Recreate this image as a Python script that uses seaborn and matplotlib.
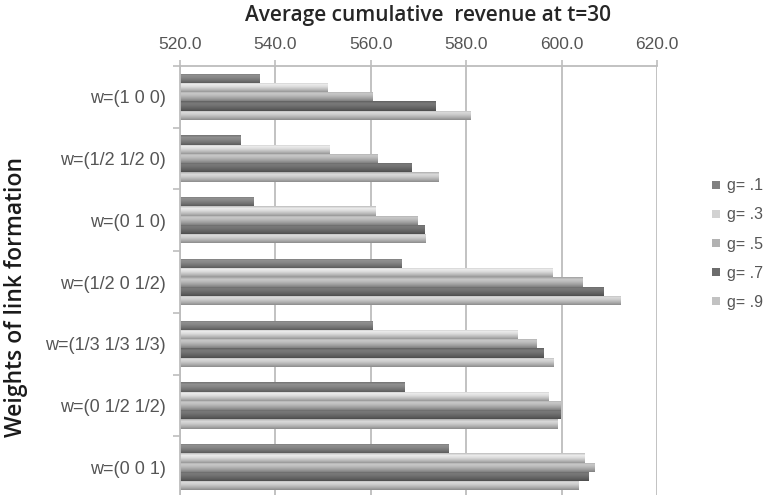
import numpy as np
import pandas as pd
import matplotlib
matplotlib.use("Agg")
import matplotlib.pyplot as plt
from matplotlib.lines import Line2D
import seaborn as sns

# Link-formation weight settings (categories) and g levels (series)
weights = ["w=(1 0 0)", "w=(1/2 1/2 0)", "w=(0 1 0)", "w=(1/2 0 1/2)",
           "w=(1/3 1/3 1/3)", "w=(0 1/2 1/2)", "w=(0 0 1)"]
g_labels = ["g= .1", "g= .3", "g= .5", "g= .7", "g= .9"]

# Average cumulative revenue at t=30, one list per g level
rev_g1 = [536.6, 532.7, 535.4, 566.4, 560.4, 567.0, 576.3]
rev_g3 = [551.0, 551.3, 561.0, 598.1, 590.7, 597.3, 604.9]
rev_g5 = [560.4, 561.3, 569.7, 604.4, 594.8, 599.8, 606.9]
rev_g7 = [573.6, 568.5, 571.2, 608.8, 596.2, 599.8, 605.7]
rev_g9 = [581.0, 574.2, 571.4, 612.4, 598.3, 599.2, 603.6]

x_ticks = [520, 540, 560, 580, 600, 620]

series = [rev_g1, rev_g3, rev_g5, rev_g7, rev_g9]
df = pd.DataFrame({
    "weights": np.repeat([weights], len(g_labels), axis=0).ravel(),
    "g": np.repeat(g_labels, len(weights)),
    "revenue": np.concatenate(series),
})

colors = ["#808080", "#d2d2d2", "#b2b2b2", "#6c6c6c", "#c2c2c2"]

sns.set_theme(style="white")
plt.rcParams["font.family"] = ["Liberation Sans", "DejaVu Sans"]

fig = plt.figure(figsize=(7.66, 4.95), dpi=100)
ax = fig.add_axes([180 / 766, 1 - 498 / 495, (657 - 180) / 766, (498 - 66) / 495])

sns.barplot(data=df, x="revenue", y="weights", hue="g", hue_order=g_labels,
            order=weights, palette=colors, orient="h", width=0.75,
            linewidth=0, saturation=1, legend=False, ax=ax)

xmin, xmax = x_ticks[0], x_ticks[-1]
ax.set_xlim(xmin, xmax)
ylim = ax.get_ylim()

# Cylinder-like shading across the height of each bar
stops_t = [0.0, 0.22, 0.5, 0.8, 1.0]
stops_f = [0.90, 1.13, 1.03, 0.86, 0.72]
tt = np.linspace(0, 1, 32)
shade = np.interp(tt, stops_t, stops_f)
for patch in list(ax.patches):
    x0, y0 = patch.get_x(), patch.get_y()
    w, h = patch.get_width(), patch.get_height()
    rgb = np.array(matplotlib.colors.to_rgb(patch.get_facecolor()))
    img = np.clip(rgb[None, None, :] * shade[:, None, None], 0, 1)
    left = max(x0, xmin)
    im = ax.imshow(img, extent=(left, x0 + w, y0 + h, y0), origin="upper",
                   aspect="auto", interpolation="bilinear", zorder=patch.get_zorder())
    im.set_clip_path(patch)
ax.set_xlim(xmin, xmax)
ax.set_ylim(ylim)

# Gridlines and frame
grid_c = "#bdbdbd"
ax.set_xticks(x_ticks)
ax.set_xticklabels([f"{v:.1f}" for v in x_ticks])
ax.xaxis.set_ticks_position("top")
ax.xaxis.set_label_position("top")
for v in x_ticks:
    ax.axvline(v, color=grid_c, lw=1.3, zorder=0)
ax.set_axisbelow(True)
for side in ["bottom", "right"]:
    ax.spines[side].set_visible(False)
for side in ["top", "left"]:
    ax.spines[side].set_color(grid_c)
    ax.spines[side].set_linewidth(1.3)

ax.tick_params(axis="x", which="major", direction="out", length=4, width=1.2,
               color=grid_c, labelsize=12.5, labelcolor="#555555", pad=6)
ax.set_yticks(range(len(weights)))
ax.set_yticklabels(weights)
ax.set_yticks(np.arange(-0.5, len(weights), 1.0), minor=True)
ax.tick_params(axis="y", which="major", length=0, labelsize=13,
               labelcolor="#555555", pad=10)
ax.tick_params(axis="y", which="minor", direction="out", length=5, width=1.2,
               color=grid_c, left=True)

ax.set_xlabel("")
ax.set_ylabel("")
fig.text(428 / 766, 1 - 15 / 495, "Average cumulative  revenue at t=30",
         ha="center", va="center", fontsize=15,
         family=["Open Sans", "DejaVu Sans"], weight="semibold", color="#262626")
fig.text(16 / 766, 1 - 297 / 495, "Weights of link formation", rotation=90,
         ha="center", va="center", fontsize=16.5,
         family=["Open Sans", "DejaVu Sans"], weight="semibold", color="#1a1a1a")

handles = [Line2D([], [], marker="s", linestyle="none", markersize=5.2,
                  markerfacecolor=c, markeredgewidth=0) for c in colors]
fig.legend(handles, g_labels, loc="upper left",
           bbox_to_anchor=(705 / 766, 1 - 172 / 495), frameon=False,
           fontsize=11.5, labelcolor="#555555", handlelength=0.6,
           handletextpad=0.35, labelspacing=0.88, borderaxespad=0)

fig.savefig("out.png", dpi=100)
